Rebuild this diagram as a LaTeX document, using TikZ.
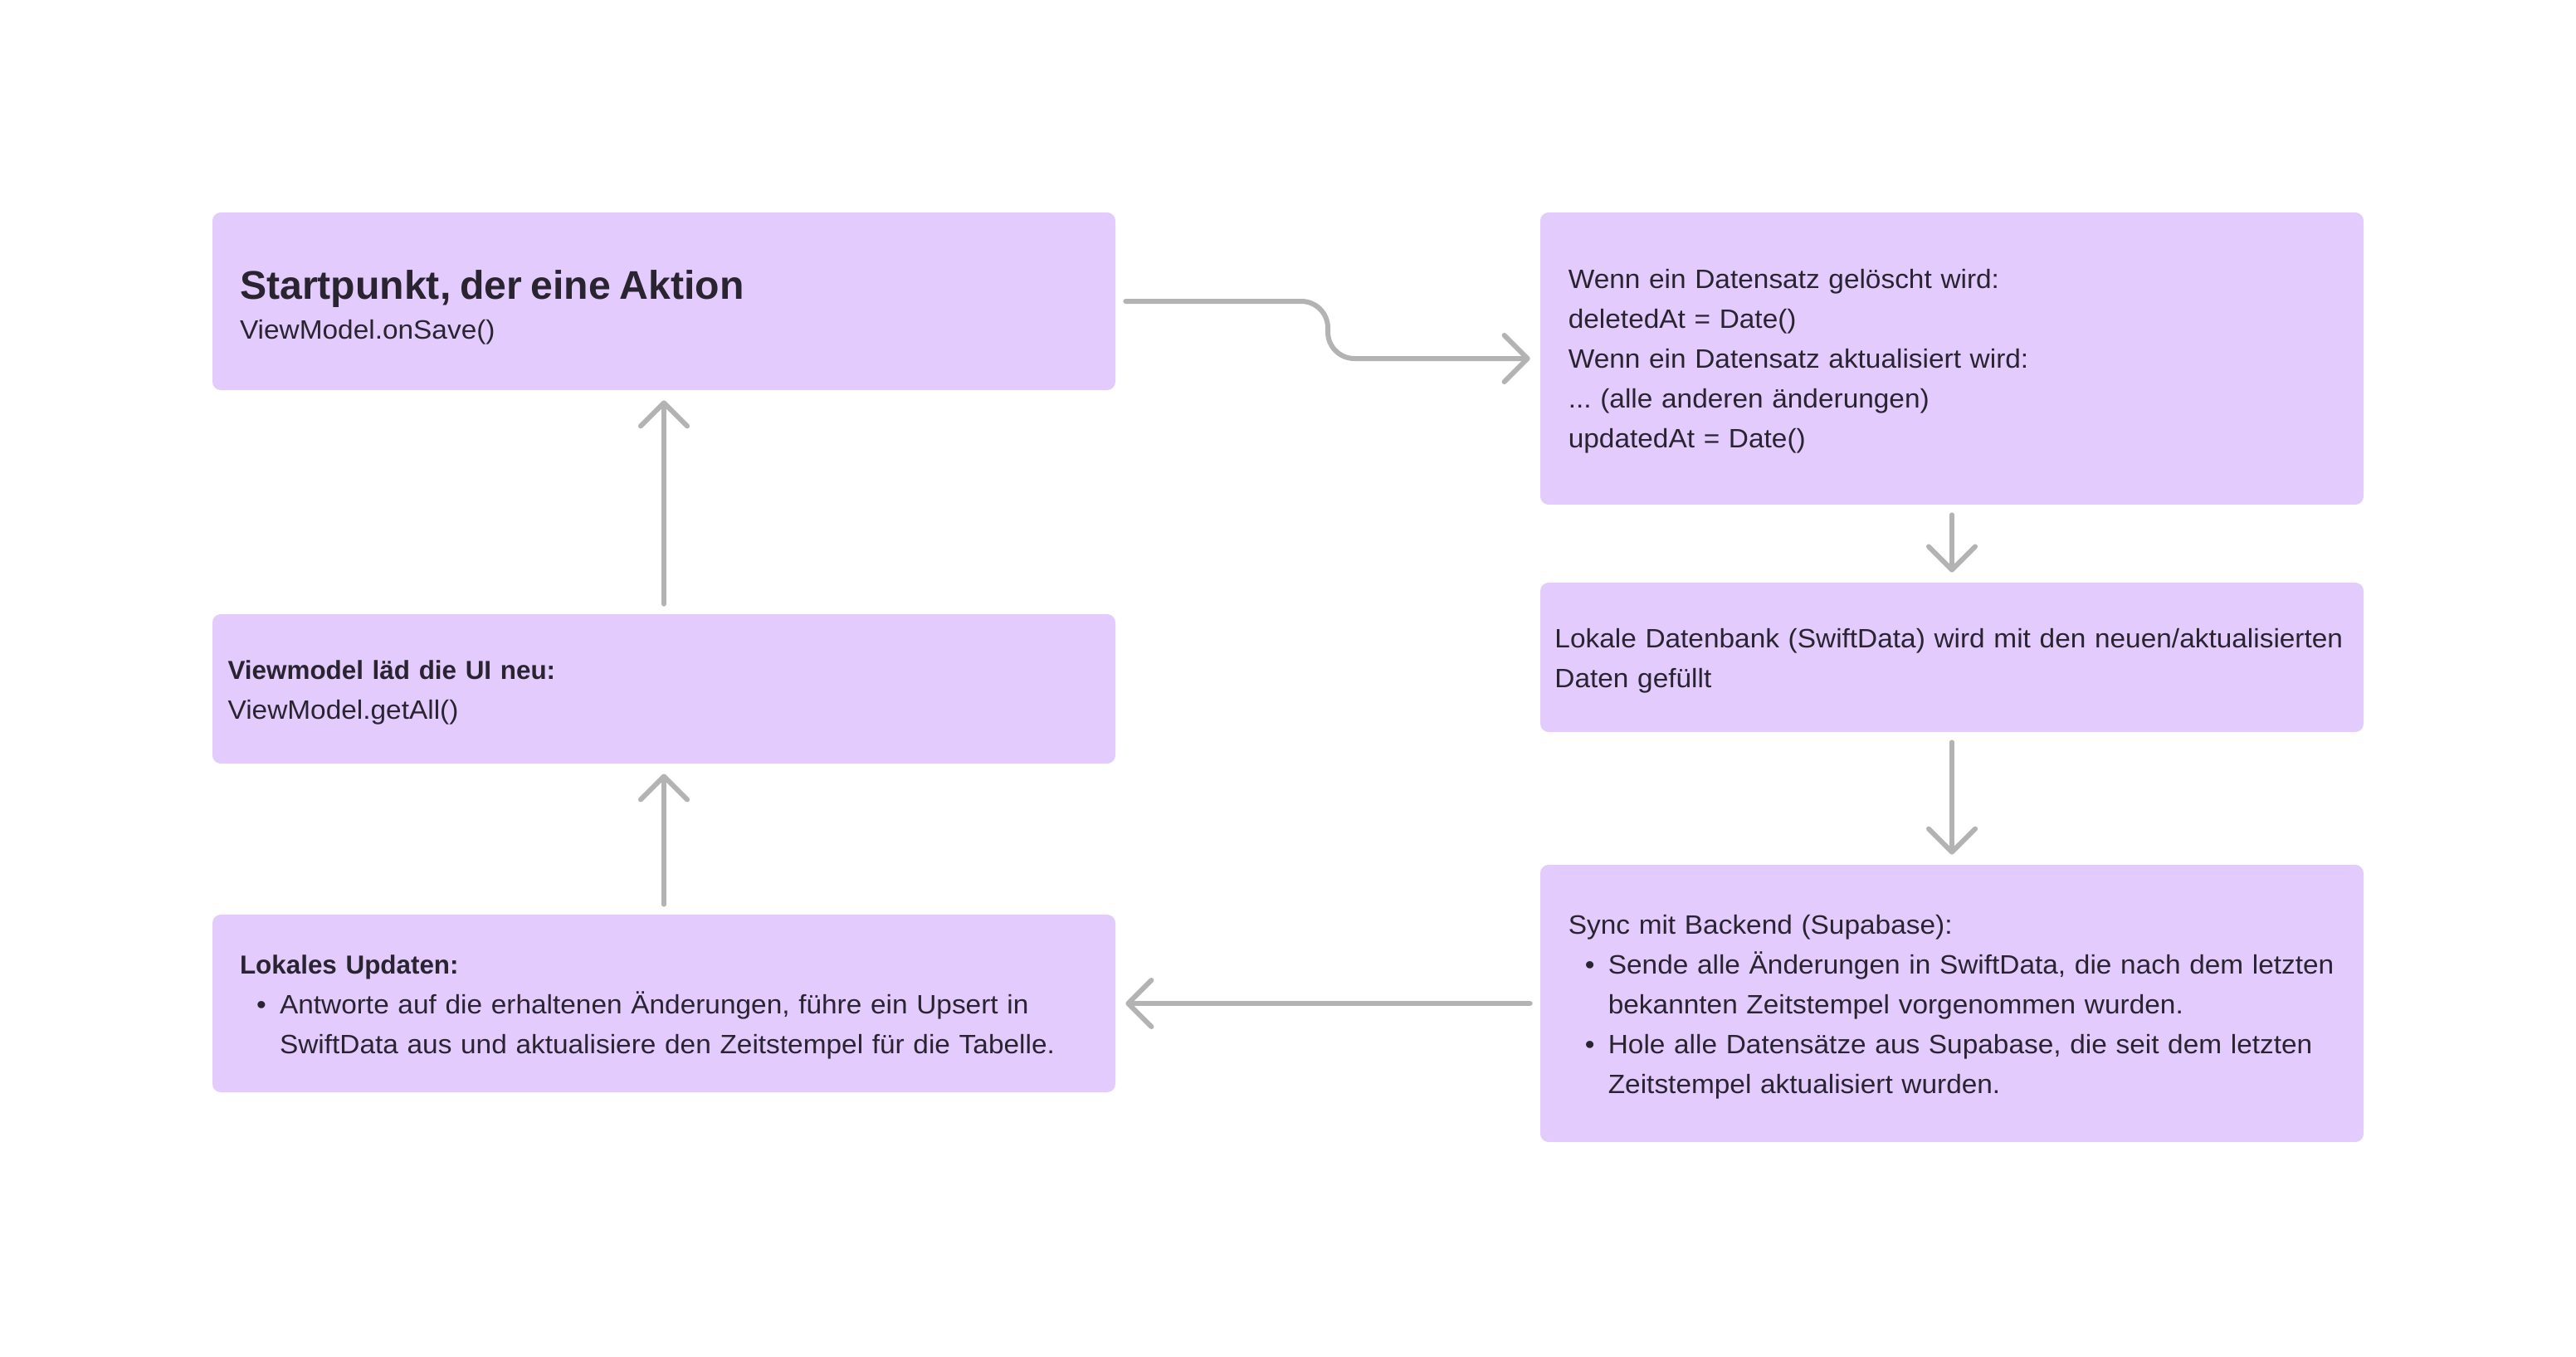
\documentclass[tikz,border=0pt]{standalone}
\usepackage{fontspec}
\setmainfont{Liberation Sans}
\newfontfamily\bodyfamily[FakeStretch=1.044]{Liberation Sans}
\usetikzlibrary{arrows.meta,calc}
\definecolor{boxfill}{HTML}{E3CCFD}
\definecolor{txtcol}{HTML}{2A2431}
\definecolor{arrowgray}{HTML}{B3B3B3}
\frenchspacing
\newcommand\bodytxt{\bodyfamily\mdseries\fontsize{16}{24}\selectfont}
\newcommand\boldtxt{\rmfamily\bfseries\fontsize{15.7}{24}\selectfont}
\newcommand\titletxt{\rmfamily\bfseries\fontsize{24.1}{24}\selectfont}
\newcommand\bitem{\hspace*{10pt}\makebox[14pt][l]{•}}
\newcommand\bcont{\hspace*{24pt}}
\begin{document}
\begin{tikzpicture}[x=1pt,y=-1pt,
  box/.style={rectangle, rounded corners=5pt, fill=boxfill, draw=none, inner sep=0pt},
  txt/.style={anchor=base west, inner sep=0pt, text width=520pt, align=left, text=txtcol, font=\bodytxt},
  conn/.style={draw=arrowgray, line width=3pt, line cap=round, line join=round,
    -{Straight Barb[round, length=14pt, width=28pt]}, shorten <=6pt, shorten >=6pt}]
\useasboundingbox[fill=white] (0,0) rectangle (1552,817);

% boxes
\node[box, minimum width=544pt, minimum height=107pt] (b1) at (400,181.5) {};
\node[box, minimum width=496pt, minimum height=176pt] (r1) at (1176,216) {};
\node[box, minimum width=496pt, minimum height=90pt] (r2) at (1176,396) {};
\node[box, minimum width=496pt, minimum height=167pt] (r3) at (1176,604.5) {};
\node[box, minimum width=544pt, minimum height=90pt] (l2) at (400,415) {};
\node[box, minimum width=544pt, minimum height=107pt] (l3) at (400,604.5) {};

% texts
\node[txt] (t1) at (144.3,180.3) {{\titletxt Startpunkt, der eine Aktion}\\ViewModel.onSave()};
\node[txt] (t2) at (944.7,173.7) {Wenn ein Datensatz gelöscht wird:\\deletedAt = Date()\\Wenn ein Datensatz aktualisiert wird:\\... (alle anderen änderungen)\\updatedAt = Date()};
\node[txt] (t3) at (936.5,390) {Lokale Datenbank (SwiftData) wird mit den neuen/aktualisierten\\Daten gefüllt};
\node[txt] (t4) at (944.7,562.8) {Sync mit Backend (Supabase):\\\bitem Sende alle Änderungen in SwiftData, die nach dem letzten\\\bcont bekannten Zeitstempel vorgenommen wurden.\\\bitem Hole alle Datensätze aus Supabase, die seit dem letzten\\\bcont Zeitstempel aktualisiert wurden.};
\node[txt] (t5) at (144.3,586.7) {{\boldtxt Lokales Updaten:}\\\bitem Antworte auf die erhaltenen Änderungen, führe ein Upsert in\\\bcont SwiftData aus und aktualisiere den Zeitstempel für die Tabelle.};
\node[txt] (t6) at (137.1,409.2) {{\boldtxt Viewmodel läd die UI neu:}\\ViewModel.getAll()};

% connectors
\coordinate (mid) at ($(b1.east)!0.5!(r1.west)$);
\draw[conn, rounded corners=16pt] (b1.east) -- (b1.east -| mid) -- (r1.west -| mid) -- (r1.west);
\draw[conn] (r1.south) -- (r2.north);
\draw[conn] (r2.south) -- (r3.north);
\draw[conn] (r3.west) -- (l3.east);
\draw[conn] (l3.north) -- (l2.south);
\draw[conn] (l2.north) -- (b1.south);
\end{tikzpicture}
\end{document}
